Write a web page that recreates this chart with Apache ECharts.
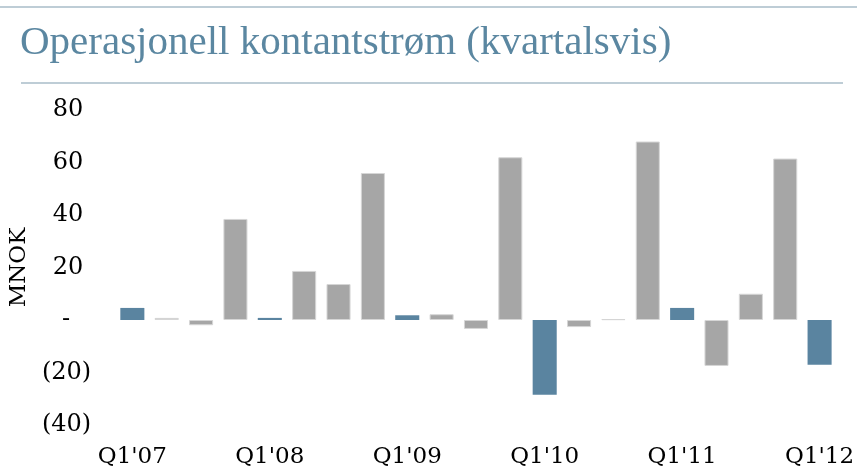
<!DOCTYPE html>
<html>
<head>
<meta charset="utf-8">
<script src="https://cdn.jsdelivr.net/npm/echarts@6/dist/echarts.min.js"></script>
<style>
  html, body { margin: 0; padding: 0; background: #fff; }
  #chart { width: 857px; height: 472px; }
</style>
</head>
<body>
<div id="chart"></div>
<script>
// kvartaler Q1'07 - Q1'12
const quarters = [
  "Q1'07", "Q2'07", "Q3'07", "Q4'07",
  "Q1'08", "Q2'08", "Q3'08", "Q4'08",
  "Q1'09", "Q2'09", "Q3'09", "Q4'09",
  "Q1'10", "Q2'10", "Q3'10", "Q4'10",
  "Q1'11", "Q2'11", "Q3'11", "Q4'11",
  "Q1'12"
];
// MNOK
const cashFlow = [
  4.6, 0.8, -2, 38.5,
  0.8, 18.7, 13.7, 56,
  1.8, 2.2, -3.4, 62,
  -28.5, -2.7, 0.3, 68,
  4.6, -17.5, 10, 61.5,
  -17
];
const yTicks = [-40, -20, 0, 20, 40, 60, 80];

const blue = "#5a84a0";
const grey = "#a6a6a6";
const serif = "DejaVu Serif";

const chart = echarts.init(document.getElementById("chart"));

const option = {
  animation: false,
  title: {
    text: "Operasjonell kontantstrøm (kvartalsvis)",
    left: 15,
    top: 18,
    textStyle: {
      fontFamily: "Liberation Serif",
      fontWeight: "normal",
      fontSize: 41,
      color: "#5b87a1"
    }
  },
  graphic: [
    { type: "line", shape: { x1: 0, y1: 7, x2: 857, y2: 7 }, style: { stroke: "#a9bcc8", lineWidth: 1.5 } },
    { type: "line", shape: { x1: 21, y1: 83, x2: 843, y2: 83 }, style: { stroke: "#a9bcc8", lineWidth: 1.5 } }
  ],
  grid: {
    left: 111,
    right: 19,
    top: 110,
    bottom: 47
  },
  xAxis: {
    type: "category",
    data: quarters,
    axisLine: { show: false },
    axisTick: { show: false },
    axisLabel: {
      interval: 3,
      margin: 21,
      fontFamily: serif,
      fontSize: 23,
      color: "#000"
    }
  },
  yAxis: {
    type: "value",
    min: yTicks[0],
    max: yTicks[yTicks.length - 1],
    interval: 20,
    name: "MNOK",
    nameLocation: "middle",
    nameGap: 82,
    nameTextStyle: { fontFamily: serif, fontSize: 23, color: "#000" },
    splitLine: { show: false },
    axisLine: { show: false },
    axisTick: { show: false },
    axisLabel: {
      margin: 24,
      fontFamily: serif,
      fontSize: 24,
      color: "#000",
      formatter: function (v) {
        if (v > 0) return "{p|" + v + "}";
        if (v === 0) return "{z|-}";
        return "{n|(" + Math.abs(v) + ")}";
      },
      rich: {
        p: { fontFamily: serif, fontSize: 24, color: "#000", padding: [0, 8, 0, 0] },
        z: { fontFamily: serif, fontSize: 24, color: "#000", padding: [0, 21, 0, 0] },
        n: { fontFamily: serif, fontSize: 24, color: "#000" }
      }
    }
  },
  series: [
    {
      type: "bar",
      barCategoryGap: "30%",
      data: cashFlow.map(function (v, i) {
        const isQ1 = quarters[i].indexOf("Q1") === 0;
        return {
          value: v,
          itemStyle: isQ1
            ? { color: blue }
            : { color: grey, borderColor: "#d6d6d6", borderWidth: 1 }
        };
      })
    }
  ]
};

chart.setOption(option);
</script>
</body>
</html>
